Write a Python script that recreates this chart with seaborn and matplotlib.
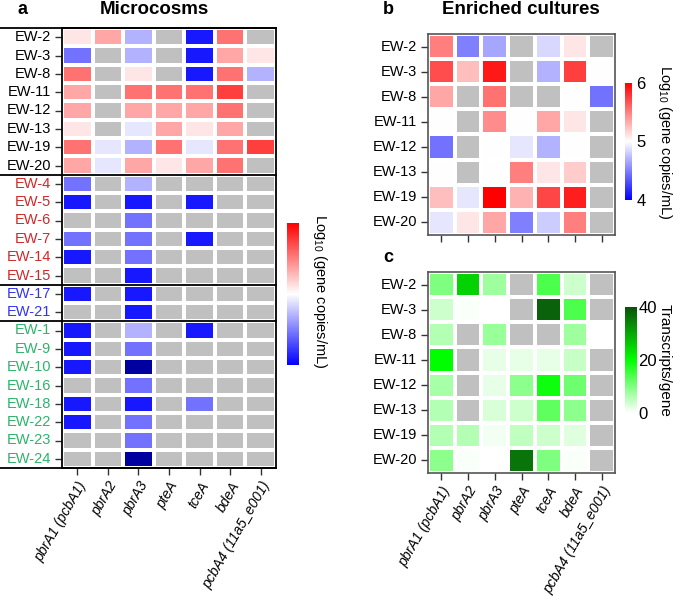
import numpy as np
import pandas as pd
import matplotlib
matplotlib.use("Agg")
import matplotlib.pyplot as plt
import matplotlib.transforms as mtransforms
from matplotlib.colors import LinearSegmentedColormap
import seaborn as sns

plt.rcParams["font.family"] = ["Liberation Sans", "DejaVu Sans"]
plt.rcParams["mathtext.fontset"] = "custom"
plt.rcParams["mathtext.rm"] = "Liberation Sans"

nan = np.nan

genes = ["pbrA1 (pcbA1)", "pbrA2", "pbrA3", "pteA", "tceA", "bdeA", "pcbA4 (11a5_e001)"]

# panel a rows and their label colours (groups)
micro_rows = ["EW-2", "EW-3", "EW-8", "EW-11", "EW-12", "EW-13", "EW-19", "EW-20",
              "EW-4", "EW-5", "EW-6", "EW-7", "EW-14", "EW-15",
              "EW-17", "EW-21",
              "EW-1", "EW-9", "EW-10", "EW-16", "EW-18", "EW-22", "EW-23", "EW-24"]
micro_group_sizes = [8, 6, 2, 8]
micro_group_colors = ["black", "#d02828", "#3434ee", "#2db36b"]

# log10 gene copies/mL in microcosms (nan = not detected)
micro_log10 = [
    [5.1, 5.35, 4.7, nan, 4.1, 5.55, nan],
    [4.45, nan, 4.7, nan, 4.1, 5.35, 5.1],
    [5.55, nan, 5.1, nan, 4.1, 5.55, 4.7],
    [5.35, nan, 5.55, 5.55, 5.55, 5.75, nan],
    [5.35, nan, 5.35, 5.35, 5.35, 5.55, nan],
    [5.1, nan, 4.9, 5.35, 5.1, 5.35, nan],
    [5.55, 4.9, 4.7, 5.55, 4.9, 5.55, 5.75],
    [5.35, 4.9, 5.35, 5.1, 5.35, 5.55, nan],
    [4.45, nan, 4.7, nan, nan, nan, nan],
    [4.1, nan, 4.1, nan, 4.1, nan, nan],
    [nan, nan, 4.45, nan, nan, nan, nan],
    [4.45, nan, 4.45, nan, 4.1, nan, nan],
    [4.1, nan, 4.45, nan, nan, nan, nan],
    [nan, nan, 4.1, nan, nan, nan, nan],
    [4.1, nan, 4.1, nan, nan, nan, nan],
    [nan, nan, 4.1, nan, nan, nan, nan],
    [4.1, nan, 4.7, nan, 4.1, nan, nan],
    [4.1, nan, 4.45, nan, nan, nan, nan],
    [4.1, nan, 3.5, nan, nan, nan, nan],
    [nan, nan, 4.45, nan, nan, nan, nan],
    [4.1, nan, 4.1, nan, 4.45, nan, nan],
    [4.1, nan, 4.45, nan, nan, nan, nan],
    [nan, nan, 4.45, nan, nan, nan, nan],
    [nan, nan, 3.5, nan, nan, nan, nan],
]

enriched_rows = ["EW-2", "EW-3", "EW-8", "EW-11", "EW-12", "EW-13", "EW-19", "EW-20"]

enriched_log10 = [
    [5.5, 4.5, 4.65, nan, 4.85, 5.1, nan],
    [5.7, 5.25, 5.9, nan, 4.7, 5.75, 5.0],
    [5.35, nan, 5.55, nan, nan, 5.0, 4.45],
    [5.0, nan, 5.45, 5.0, 5.35, 5.1, nan],
    [4.45, nan, 5.0, 4.9, 4.7, 5.0, nan],
    [5.0, nan, 5.0, 5.5, 5.1, 5.2, nan],
    [5.25, 4.9, 6.0, 5.3, 5.72, 5.88, nan],
    [4.9, 5.1, 5.35, 4.5, 4.8, 5.5, nan],
]

enriched_transcripts = [
    [10, 25, 7.5, nan, 14, 4, nan],
    [4, 0.5, 0, nan, 38, 14, nan],
    [6, nan, 8, nan, nan, 7.5, 0],
    [20, nan, 2, 2, 2, 4.5, nan],
    [7, nan, 2, 9, 19, 11.5, nan],
    [6, nan, 3, 4, 12.5, 9, nan],
    [6, 6, 1, 5, 4, 2.5, nan],
    [9, 0.5, 0, 36, 10, 0.5, nan],
]

GRAY = "#c0c0c0"
W, H = 673, 600


def rect(x0, y0, x1, y1):
    return [x0 / W, 1 - y1 / H, (x1 - x0) / W, (y1 - y0) / H]


bwr = LinearSegmentedColormap.from_list("bwr_custom", ["#0000ff", "#ffffff", "#ff0000"])
bwr.set_bad(GRAY)
bwr.set_under("#0000a0")
greens = LinearSegmentedColormap.from_list("green_custom", ["#ffffff", "#00ff00", "#0b520b"])
greens.set_bad(GRAY)

fig = plt.figure(figsize=(W / 100, H / 100), dpi=100)

ax_a = fig.add_axes(rect(62, 28, 276, 468))
cax_a = fig.add_axes(rect(287, 223, 299, 365))
ax_b = fig.add_axes(rect(428, 34, 615, 235))
cax_b = fig.add_axes(rect(625, 83, 632, 200))
ax_c = fig.add_axes(rect(428, 272, 615, 473))
cax_c = fig.add_axes(rect(625, 307, 637, 413))

df_a = pd.DataFrame(micro_log10, index=micro_rows, columns=genes)
df_b = pd.DataFrame(enriched_log10, index=enriched_rows, columns=genes)
df_c = pd.DataFrame(enriched_transcripts, index=enriched_rows, columns=genes)

sns.heatmap(df_a, ax=ax_a, cbar_ax=cax_a, cmap=bwr, vmin=4, vmax=6,
            linewidths=1.5, linecolor="white")
sns.heatmap(df_b, ax=ax_b, cbar_ax=cax_b, cmap=bwr, vmin=4, vmax=6,
            linewidths=1.5, linecolor="white")
sns.heatmap(df_c, ax=ax_c, cbar_ax=cax_c, cmap=greens, vmin=0, vmax=40,
            linewidths=1.5, linecolor="white")

for ax in (ax_a, ax_b, ax_c):
    ax.set_facecolor(GRAY)
    ax.set_xlabel("")
    ax.set_ylabel("")
    ax.tick_params(axis="both", length=5, width=1, color="#333333", labelsize=10.5, pad=3)
    ax.set_yticklabels(ax.get_yticklabels(), rotation=0)

# frames
for s in ax_a.spines.values():
    s.set_visible(True)
    s.set_color("black")
    s.set_linewidth(1.3)
for ax in (ax_b, ax_c):
    for s in ax.spines.values():
        s.set_visible(True)
        s.set_color("#555555")
        s.set_linewidth(1.2)

# panel a label colours by group
label_colors = np.repeat(micro_group_colors, micro_group_sizes)
for lab, col in zip(ax_a.get_yticklabels(), label_colors):
    lab.set_color(col)

# group separators reaching across the row labels
trans = mtransforms.blended_transform_factory(ax_a.transAxes, ax_a.transData)
bounds = np.concatenate([[0], np.cumsum(micro_group_sizes)])
for b in bounds:
    ax_a.plot([-62 / 214, 1], [b, b], color="black", lw=1.3, transform=trans, clip_on=False)

# x labels
for ax in (ax_a, ax_c):
    ax.set_xticklabels(genes, rotation=60, ha="right", rotation_mode="anchor",
                       fontstyle="italic", fontsize=10)
ax_b.set_xticklabels([])

# colorbars
cb_a = ax_a.collections[0].colorbar
cb_a.set_ticks([])
cb_a.outline.set_visible(False)
cb_b = ax_b.collections[0].colorbar
cb_b.set_ticks([4, 5, 6])
cb_b.outline.set_visible(False)
cb_b.ax.tick_params(length=0, labelsize=12, pad=3)
cb_c = ax_c.collections[0].colorbar
cb_c.set_ticks([0, 20, 40])
cb_c.outline.set_visible(False)
cb_c.ax.tick_params(length=0, labelsize=12, pad=1)

log_label = "Log$_{10}$ (gene copies/mL)"
fig.text(320 / W, 1 - 291 / H, log_label, rotation=270, ha="center", va="center", fontsize=10.5)
fig.text(665 / W, 1 - 142 / H, log_label, rotation=270, ha="center", va="center", fontsize=10.5)
fig.text(665 / W, 1 - 360 / H, "Transcripts/gene", rotation=270, ha="center", va="center", fontsize=11)

# panel titles
fig.text(23 / W, 1 - 9 / H, "a", fontsize=13, fontweight="bold", ha="center", va="center")
fig.text(154 / W, 1 - 9 / H, "Microcosms", fontsize=13.5, fontweight="bold", ha="center", va="center")
fig.text(388 / W, 1 - 9 / H, "b", fontsize=13, fontweight="bold", ha="center", va="center")
fig.text(521 / W, 1 - 9 / H, "Enriched cultures", fontsize=13.5, fontweight="bold", ha="center", va="center")
fig.text(388 / W, 1 - 257 / H, "c", fontsize=13, fontweight="bold", ha="center", va="center")

fig.savefig("out.png", dpi=100)
